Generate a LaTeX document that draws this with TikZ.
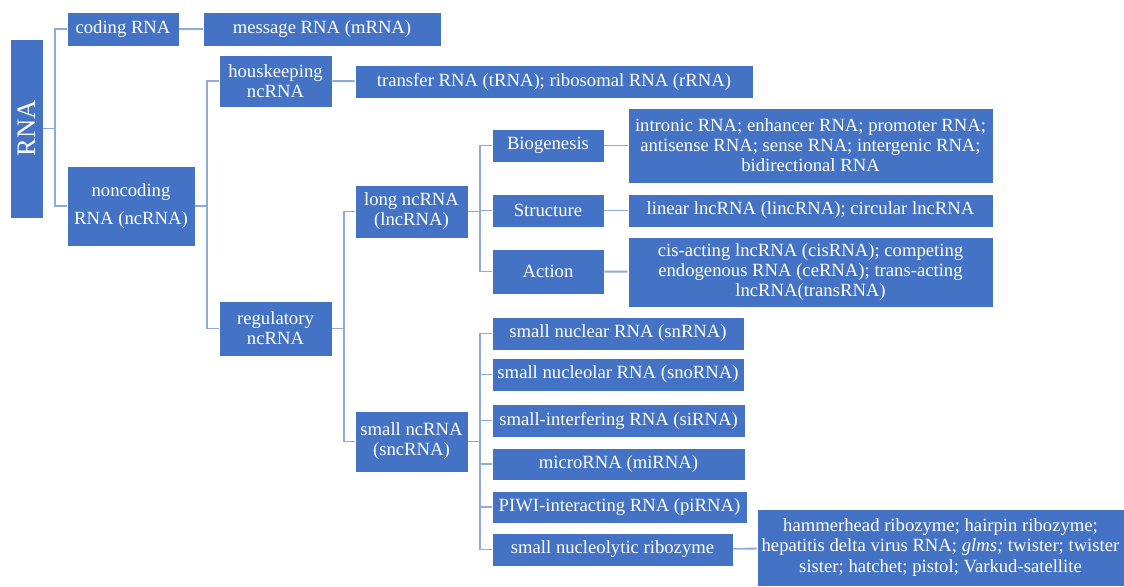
\documentclass[tikz,border=0pt]{standalone}
\usepackage{fontspec}
\setmainfont{Liberation Serif}
\definecolor{boxblue}{RGB}{68,114,196}
\definecolor{linkblue}{RGB}{143,170,220}

\begin{document}
\begin{tikzpicture}[x=0.75pt,y=-0.75pt,
  box/.style={draw=white,line width=0.5pt,fill=boxblue,text=white,inner sep=1pt,
              align=center,font=\fontsize{14}{15}\selectfont},
  boxsize/.style 2 args={minimum width=#1*0.75pt,minimum height=#2*0.75pt},
  link/.style={draw=linkblue,line width=1.4pt}]
  \useasboundingbox (0,0) rectangle (1124,586);
  % root, coding / noncoding
  \node[box,boxsize={33}{179},font=\fontsize{20}{24}\selectfont] (rna) at (26.5,128.5) {\rotatebox{90}{RNA}};
  \node[box,boxsize={112}{34}] (coding) at (123,29) {coding RNA};
  \node[box,boxsize={238}{34}] (mrna) at (322,29) {message RNA (mRNA)};
  \node[box,boxsize={128}{80}] (noncoding) at (131,206) {noncoding\\[6pt]RNA (ncRNA)};
  % housekeeping / regulatory
  \node[box,boxsize={113}{52}] (housekeep) at (275.5,81) {houskeeping\\ncRNA};
  \node[box,boxsize={398}{33}] (trna) at (554,81.5) {transfer RNA (tRNA); ribosomal RNA (rRNA)};
  \node[box,boxsize={113}{55}] (regul) at (275.5,328.5) {regulatory\\ncRNA};
  % long ncRNA branch
  \node[box,boxsize={113}{53}] (lnc) at (411.5,211.5) {long ncRNA\\(lncRNA)};
  \node[box,boxsize={112}{33}] (biog) at (548,145.5) {Biogenesis};
  \node[box,boxsize={112}{33}] (struc) at (548,210.5) {Structure};
  \node[box,boxsize={112}{45}] (action) at (548,271.5) {Action};
  \node[box,boxsize={365}{75}] (biogdet) at (810.5,145.5)
    {intronic RNA; enhancer RNA; promoter RNA;\\antisense RNA; sense RNA; intergenic RNA;\\bidirectional RNA};
  \node[box,boxsize={365}{33}] (strucdet) at (810.5,210.5) {linear lncRNA (lincRNA); circular lncRNA};
  \node[box,boxsize={365}{70}] (actiondet) at (810.5,272)
    {cis-acting lncRNA (cisRNA); competing\\endogenous RNA (ceRNA); trans-acting\\lncRNA(transRNA)};
  % small ncRNA branch
  \node[box,boxsize={113}{61}] (snc) at (411.5,441.5) {small ncRNA\\(sncRNA)};
  \node[box,boxsize={252}{33}] (snrna) at (618,333.5) {small nuclear RNA (snRNA)};
  \node[box,boxsize={252}{33}] (snorna) at (618,374.5) {small nucleolar RNA (snoRNA)};
  \node[box,boxsize={253}{33}] (sirna) at (618.5,420.5) {small-interfering RNA (siRNA)};
  \node[box,boxsize={253}{32}] (mirna) at (618.5,464) {microRNA (miRNA)};
  \node[box,boxsize={255}{32}] (pirna) at (619.5,507) {PIWI-interacting RNA (piRNA)};
  \node[box,boxsize={241}{33}] (ribo) at (612.5,549.5) {small nucleolytic ribozyme};
  \node[box,boxsize={367}{77}] (ribodet) at (940.5,547.5)
    {hammerhead ribozyme; hairpin ribozyme;\\hepatitis delta virus RNA; \textit{glms;} twister; twister\\sister; hatchet; pistol; Varkud-satellite};
  % elbow links
  \foreach \c in {coding,noncoding} \draw[link] (rna.east) -- ++(12,0) |- (\c.west);
  \foreach \c in {housekeep,regul} \draw[link] (noncoding.east) -- ++(12,0) |- (\c.west);
  \foreach \c in {lnc,snc} \draw[link] (regul.east) -- ++(12,0) |- (\c.west);
  \foreach \c in {biog,struc,action} \draw[link] (lnc.east) -- ++(12,0) |- (\c.west);
  \foreach \c in {snrna,snorna,sirna,mirna,pirna,ribo} \draw[link] (snc.east) -- ++(12,0) |- (\c.west);
  % straight links
  \foreach \a/\b in {coding/mrna,housekeep/trna,biog/biogdet,struc/strucdet,action/actiondet,ribo/ribodet}
    \draw[link] (\a) -- (\b);
\end{tikzpicture}
\end{document}
